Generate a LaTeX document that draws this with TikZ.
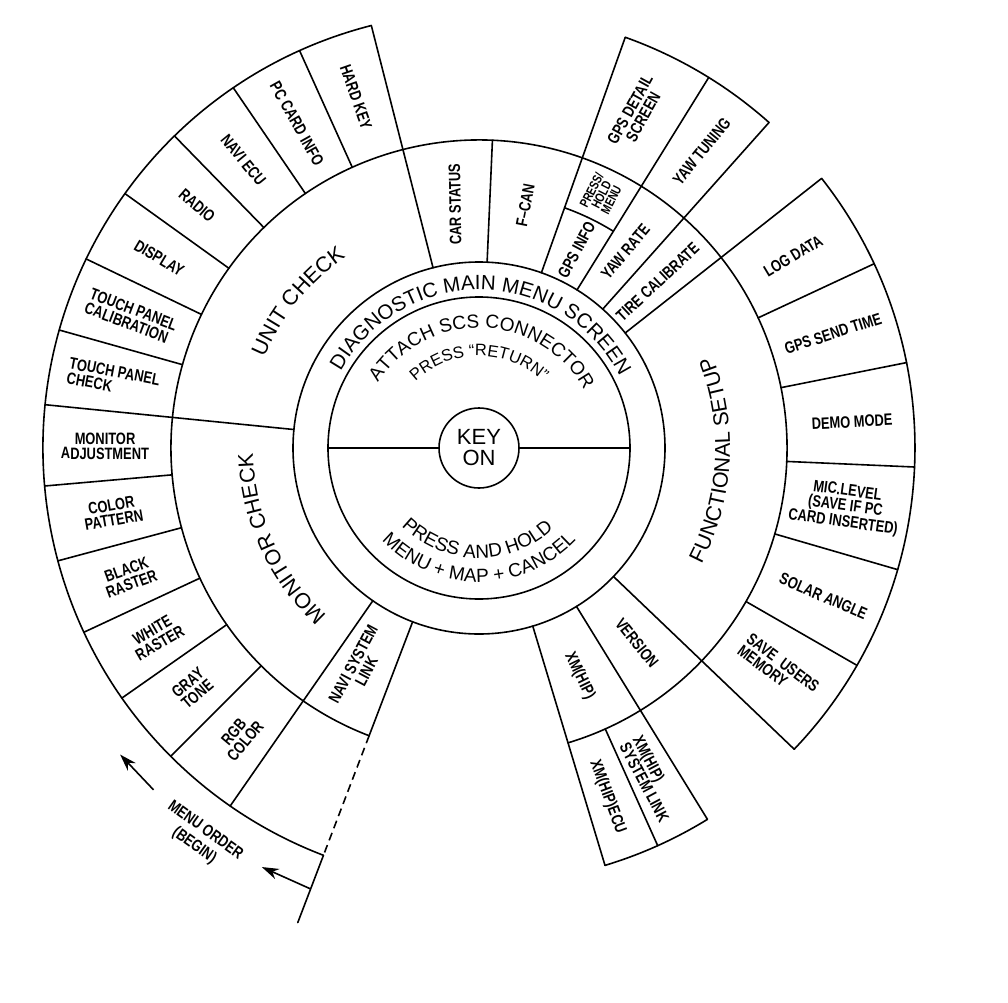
\documentclass[tikz,border=0pt]{standalone}
\usepackage{fontspec}
\setmainfont{Liberation Sans}
\newfontfamily\lblfont[FakeStretch=0.78]{Liberation Sans}
\usetikzlibrary{decorations.text,arrows.meta}
\newcommand\fdiag{\fontsize{20.5}{20}\selectfont}
\newcommand\fattach{\fontsize{19}{19}\selectfont}
\newcommand\fpressret{\fontsize{16.5}{16}\selectfont}
\newcommand\fbiglbl{\fontsize{21.5}{22}\selectfont}
\tikzset{
  ln/.style={line width=1.6pt, line cap=round, line join=round},
  lbl/.style={font=\lblfont\bfseries\fontsize{16.5}{15}\selectfont, align=center, inner sep=0pt},
  lblsmall/.style={font=\lblfont\bfseries\fontsize{13}{11}\selectfont, align=center, inner sep=0pt},
  curvetext/.style={decorate, decoration={text along path, text align=center, text={#1}}},
  arr/.style={line width=1.6pt, -{Stealth[length=17pt,width=11pt]}}
}
\begin{document}
\begin{tikzpicture}[x=1pt,y=1pt]
\useasboundingbox (-479,-554) rectangle (529,448);

% ---- circles and arcs ----
\node[circle, draw, line width=1.6pt, minimum size=80pt, inner sep=0pt,
      font=\fontsize{22}{21}\selectfont, align=center] (key) at (0,0) {KEY\\ON};
\draw[ln] (0,0) circle[radius=151pt];
\draw[ln] (0,0) circle[radius=186pt];
\draw[ln] (-73.2:308) arc[start angle=-73.2, end angle=249.1, radius=308pt];
\draw[ln] (104.3:436) arc[start angle=104.3, end angle=249.1, radius=436pt];
\draw[ln] (48.3:436) arc[start angle=48.3, end angle=70.4, radius=436pt];
\draw[ln] (-43.7:436) arc[start angle=-43.7, end angle=38.2, radius=436pt];
\draw[ln] (-73.2:436) arc[start angle=-73.2, end angle=-58.4, radius=436pt];
\draw[ln] (58.2:255) arc[start angle=58.2, end angle=70.4, radius=255pt];

% ---- horizontal divider of inner circle ----
\draw[ln] (key.east) -- (0:151);
\draw[ln] (key.west) -- (180:151);

% ---- rays ----
\foreach \a in {174.3,104.3,70.4,58.2,48.3,38.2,-43.7,-58.4,-73.2,235.2}
  \draw[ln] (\a:186) -- (\a:436);
\foreach \a in {87.5,249.1}
  \draw[ln] (\a:186) -- (\a:308);
\foreach \a in {114.3,124.3,134.3,144.3,154.3,164.3,185,195,205,215,225,25.0,11.3,-2.5,-16.2,-29.9,-65.8}
  \draw[ln] (\a:308) -- (\a:436);
\draw[line width=1.6pt, dash pattern=on 8pt off 5pt] (249.1:308) -- (249.1:436);
\draw[ln] (249.1:436) -- (249.1:508);

% ---- curved texts ----
\path[curvetext={|\fdiag|DIAGNOSTIC MAIN MENU SCREEN}] (152:158) arc[start angle=152, end angle=26, radius=158pt];
\path[curvetext={|\fattach|ATTACH SCS CONNECTOR}] (147:120) arc[start angle=147, end angle=29, radius=120pt];
\path[curvetext={|\fpressret|PRESS “RETURN”}] (133:92) arc[start angle=133, end angle=47, radius=92pt];
\path[curvetext={|\fattach|PRESS AND HOLD}] (222:110) arc[start angle=222, end angle=316, radius=110pt];
\path[curvetext={|\fattach|MENU + MAP + CANCEL}] (215:134) arc[start angle=215, end angle=325, radius=134pt];
\path[curvetext={|\fbiglbl|UNIT CHECK}] (171:233) arc[start angle=171, end angle=111, radius=233pt];
\path[curvetext={|\fbiglbl|MONITOR CHECK}] (234:226) arc[start angle=234, end angle=175, radius=226pt];
\path[curvetext={|\fbiglbl|FUNCTIONAL SETUP}] (-36:251) arc[start angle=-36, end angle=30, radius=251pt];

% ---- unit check items ----
\node[lbl, rotate=-70.7] (hardkey) at (109.3:372) {HARD KEY};
\node[lbl, rotate=-60.7] (pccard) at (119.3:372) {PC CARD INFO};
\node[lbl, rotate=-50.7] (naviecu) at (129.3:372) {NAVI ECU};
\node[lbl, rotate=-40.7] (radio) at (139.3:372) {RADIO};
\node[lbl, rotate=-30.7] (display) at (149.3:372) {DISPLAY};
\node[lbl, rotate=-20.7, align=left] (tpcal) at (159.3:372) {TOUCH PANEL\\CALIBRATION};
\node[lbl, rotate=-10.7, align=left] (tpchk) at (169.3:372) {TOUCH PANEL\\CHECK};

% ---- monitor check items ----
\node[lbl, rotate=-0.3] (monadj) at (179.7:374) {MONITOR\\ADJUSTMENT};
\node[lbl, rotate=10] (colpat) at (190:372) {COLOR\\PATTERN};
\node[lbl, rotate=20] (black) at (200.2:373) {BLACK\\RASTER};
\node[lbl, rotate=30] (white) at (210.3:374) {WHITE\\RASTER};
\node[lbl, rotate=40] (gray) at (220:374) {GRAY\\TONE};
\node[lbl, rotate=50] (rgb) at (230.3:375) {RGB\\COLOR};
\node[lbl, rotate=62] (navisys) at (241.5:250) {NAVI SYSTEM\\LINK};

% ---- top items ----
\node[lbl, rotate=91] (car) at (95.6:245) {CAR STATUS};
\node[lbl, rotate=79] (fcan) at (79.2:247) {F–CAN};
\node[lbl, rotate=62] (gpsinfo) at (63.8:221) {GPS INFO};
\node[lblsmall, rotate=63] (presshold) at (64.2:281) {PRESS/\\HOLD\\MENU};
\node[lbl, rotate=50] (yawrate) at (53.3:245) {YAW RATE};
\node[lbl, rotate=43] (tire) at (42.9:244) {TIRE CALIBRATE};
\node[lbl, rotate=61] (gpsdet) at (64.8:370) {GPS DETAIL\\SCREEN};
\node[lbl, rotate=51] (yawtun) at (53.1:371) {YAW TUNING};

% ---- functional setup items ----
\node[lbl, rotate=31] (logdata) at (31.4:368) {LOG DATA};
\node[lbl, rotate=18] (gpssend) at (17.9:372) {GPS\ SEND TIME};
\node[lbl, rotate=3] (demo) at (4:374) {DEMO MODE};
\node[lbl, rotate=-8] (mic) at (-9.2:371) {MIC.LEVEL\\(SAVE IF PC\\CARD INSERTED)};
\node[lbl, rotate=-23.5] (solar) at (-23.3:375) {SOLAR ANGLE};
\node[lbl, rotate=-37, align=left] (saveusr) at (-36.4:372) {SAVE\ \ USERS\\MEMORY};

% ---- bottom items ----
\node[lbl, rotate=-51] (version) at (-51:251) {VERSION};
\node[lbl, rotate=-64] (xmhip) at (-66.2:249) {XM(HIP)};
\node[lbl, rotate=-62, align=left] (xmsys) at (-62.5:373) {XM(HIP)\\SYSTEM LINK};
\node[lbl, rotate=-69.5] (xmecu) at (-69.8:372) {XM(HIP)ECU};

% ---- menu order ----
\node[lbl, rotate=-35.6, font=\lblfont\bfseries\fontsize{16.5}{19}\selectfont] (menuorder) at (234.4:480) {MENU ORDER\\(BEGIN)};
\coordinate (a1s) at (226.4:472);
\coordinate (a1e) at (220.5:472);
\coordinate (a2s) at (249.1:472);
\coordinate (a2e) at (242.6:472);
\draw[arr] (a1s) -- (a1e);
\draw[arr] (a2s) -- (a2e);
\end{tikzpicture}
\end{document}
